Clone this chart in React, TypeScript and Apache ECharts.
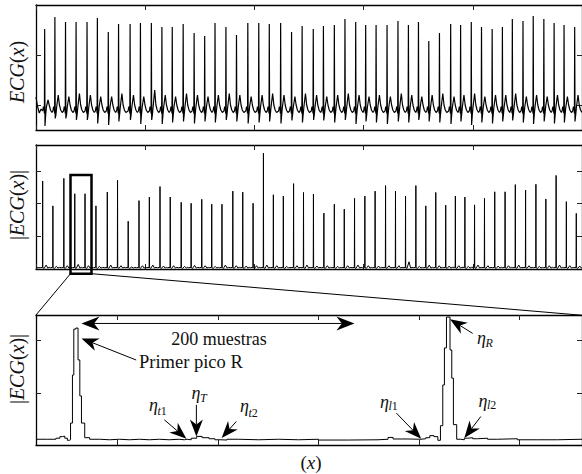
import React, { useEffect, useRef } from "react";
import * as echarts from "echarts";

// ---------- Top panel: ECG(x) (x in samples, beat-by-beat readings) ----------
const topRPos = [238, 519, 811, 1101, 1402, 1686, 1986, 2268, 2585, 2869, 3169, 3459, 3743, 4043, 4344, 4634, 4918, 5218, 5508, 5819, 6120, 6409, 6721, 7021, 7311, 7617, 7896, 8196, 8488, 8783, 9057, 9343, 9644, 9944, 10231, 10507, 10791, 11084, 11392, 11665, 11958, 12239, 12532, 12813, 13086, 13379, 13660, 13952, 14234, 14507, 14799];
const topR = [1.52, 1.76, 1.66, 1.66, 1.66, 1.74, 1.46, 1.62, 1.62, 1.64, 1.64, 1.56, 1.56, 1.62, 1.44, 1.38, 1.64, 1.56, 1.40, 1.64, 1.64, 1.62, 1.64, 1.46, 1.58, 1.52, 1.58, 1.60, 1.72, 1.66, 1.60, 1.60, 1.60, 1.68, 1.60, 1.66, 1.28, 1.44, 1.62, 1.60, 1.66, 1.56, 1.52, 1.56, 1.72, 1.68, 1.78, 1.72, 1.64, 1.60, 1.56];
const topS = [-0.42, -0.27, -0.27, -0.30, -0.30, -0.37, -0.40, -0.33, -0.30, -0.38, -0.30, -0.38, -0.35, -0.33, -0.37, -0.33, -0.35, -0.30, -0.33, -0.37, -0.35, -0.33, -0.37, -0.31, -0.35, -0.30, -0.31, -0.35, -0.30, -0.38, -0.33, -0.35, -0.38, -0.33, -0.35, -0.30, -0.33, -0.35, -0.38, -0.33, -0.40, -0.35, -0.37, -0.33, -0.31, -0.35, -0.38, -0.33, -0.37, -0.35, -0.33];
const topT = [0.10, 0.20, 0.17, 0.23, 0.20, 0.17, 0.17, 0.23, 0.20, 0.17, 0.30, 0.20, 0.17, 0.23, 0.20, 0.17, 0.20, 0.23, 0.20, 0.17, 0.20, 0.23, 0.20, 0.17, 0.23, 0.20, 0.17, 0.20, 0.23, 0.20, 0.17, 0.20, 0.17, 0.23, 0.20, 0.17, 0.20, 0.23, 0.17, 0.20, 0.23, 0.17, 0.20, 0.20, 0.23, 0.17, 0.20, 0.17, 0.20, 0.17, 0.20];

// ---------- Middle panel: |ECG(x)| ----------
const midRPos = [183, 464, 765, 1065, 1347, 1647, 1959, 2240, 2533, 2830, 3114, 3407, 3688, 3989, 4262, 4554, 4828, 5109, 5407, 5680, 5964, 6248, 6521, 6795, 7076, 7349, 7622, 7909, 8196, 8469, 8751, 9035, 9316, 9603, 9876, 10152, 10436, 10709, 10983, 11256, 11521, 11783, 12048, 12321, 12603, 12887, 13168, 13450, 13734, 14007, 14289, 14570, 14843];
const midR = [2.69, 1.93, 2.77, 2.30, 2.30, 1.93, 2.35, 2.71, 1.46, 2.09, 2.20, 2.52, 2.20, 2.04, 2.01, 2.13, 1.98, 1.98, 2.38, 2.35, 2.01, 3.54, 2.27, 2.23, 2.61, 2.34, 2.29, 1.71, 1.98, 1.83, 2.16, 2.23, 2.38, 2.55, 2.38, 2.23, 2.55, 1.93, 2.34, 1.95, 2.23, 2.20, 1.96, 2.16, 2.36, 2.36, 2.58, 2.41, 2.59, 2.14, 2.86, 2.06, 1.70];
const midT = [0.12, 0.08, 0.10, 0.14, 0.10, 0.08, 0.12, 0.10, 0.06, 0.10, 0.12, 0.09, 0.10, 0.08, 0.11, 0.10, 0.08, 0.12, 0.10, 0.09, 0.10, 0.12, 0.10, 0.08, 0.10, 0.12, 0.09, 0.10, 0.08, 0.10, 0.12, 0.10, 0.09, 0.10, 0.10, 0.22, 0.08, 0.12, 0.10, 0.09, 0.10, 0.08, 0.12, 0.10, 0.09, 0.10, 0.12, 0.10, 0.08, 0.10, 0.12, 0.10, 0.09];

// ---------- Bottom panel: zoomed |ECG(x)| (stairs, x in samples) ----------
const botX = [0, 8.7, 14.6, 17.5, 19.3, 21.1, 23.0, 24.4, 25.3, 26.7, 27.7, 29.2, 30.8, 32.1, 33.3, 35.7, 39.3, 46.6, 53.9, 61.2, 68.5, 75.8, 83.1, 90.3, 97.6, 104.9, 108.6, 110.7, 113.7, 117.7, 121.7, 126.8, 131.1, 135.5, 139.9, 148.6, 163.2, 177.8, 192.3, 206.9, 228.8, 250.6, 257.9, 261.6, 272.5, 282.0, 285.6, 288.5, 291.5, 294.4, 296.3, 298.0, 299.2, 300.7, 303.3, 304.6, 305.8, 308.2, 311.1, 313.8, 316.2, 319.9, 323.5, 330.8, 338.1, 352.6, 367.2, 381.8, 400];
const botY = [0.11, 0.11, 0.13, 0.16, 0.17, 0.13, 0.09, 0.10, 0.42, 1.34, 2.22, 2.24, 1.63, 0.94, 0.42, 0.14, 0.11, 0.10, 0.11, 0.10, 0.11, 0.10, 0.11, 0.10, 0.11, 0.10, 0.11, 0.10, 0.13, 0.165, 0.14, 0.12, 0.10, 0.095, 0.11, 0.10, 0.11, 0.10, 0.11, 0.095, 0.10, 0.11, 0.145, 0.115, 0.11, 0.12, 0.14, 0.18, 0.16, 0.09, 0.37, 1.15, 1.86, 2.45, 1.82, 1.28, 0.39, 0.11, 0.10, 0.13, 0.14, 0.12, 0.13, 0.11, 0.12, 0.10, 0.10, 0.11, 0.12];

// annotation arrows (data units of the bottom panel)
const arrowTails = [[73.4, 1.628], [94.0, 0.483], [117.5, 0.769], [146.7, 0.45], [319.9, 2.137], [264.0, 0.611], [325.9, 0.546]];
const arrowTips = [[33.3, 2.042], [110.2, 0.12], [117.5, 0.164], [136.0, 0.134], [303.3, 2.41], [282.2, 0.12], [313.8, 0.134]];
const spanStart = 33.3;
const spanEnd = 233.3;
const spanLevel = 2.328;

const FONT = "Liberation Serif";

function buildTop(): number[][] {
  const pts: number[][] = [[0, 0.16], [40, -0.02], [90, -0.16], [140, -0.08]];
  topRPos.forEach((x, i) => {
    pts.push(
      [x - 55, -0.12], [x - 35, -0.03], [x - 18, -0.07], [x - 7, -0.17],
      [x, topR[i]], [x + 9, topS[i]], [x + 28, -0.2], [x + 50, -0.03],
      [x + 92, topT[i]], [x + 125, 0.0], [x + 160, -0.1], [x + 200, -0.15]
    );
  });
  return pts;
}

function buildMid(): number[][] {
  const pts: number[][] = [[0, 0.04]];
  midRPos.forEach((x, i) => {
    pts.push(
      [x - 70, 0.04], [x - 5, 0.05], [x, midR[i]], [x + 5, 0.04],
      [x + 40, 0.02], [x + 95, midT[i]], [x + 140, 0.03], [x + 180, 0.05]
    );
  });
  pts.push([15000, 0.04]);
  return pts;
}

const axisLine = { show: true, onZero: false, lineStyle: { color: "#000", width: 1.3 } };
const axisTickBase = { show: true, inside: true, length: 5, lineStyle: { color: "#222", width: 1 } };

function xAxes(grid: number, min: number, max: number, interval: number, custom?: number[]) {
  const base: any = {
    type: "value", gridIndex: grid, min, max, interval,
    axisLabel: { show: false }, splitLine: { show: false }, axisLine,
    axisTick: custom ? { ...axisTickBase, customValues: custom } : axisTickBase,
  };
  return [{ ...base, position: "bottom" }, { ...base, position: "top" }];
}
function yAxes(grid: number, min: number, max: number, interval: number, custom?: number[]) {
  const base: any = {
    type: "value", gridIndex: grid, min, max, interval,
    axisLabel: { show: false }, splitLine: { show: false }, axisLine,
    axisTick: custom ? { ...axisTickBase, customValues: custom } : axisTickBase,
  };
  return [{ ...base, position: "left" }, { ...base, position: "right" }];
}

function arrowEls(tail: number[], tip: number[], L: number, W: number): any[] {
  const dx = tip[0] - tail[0];
  const dy = tip[1] - tail[1];
  const len = Math.hypot(dx, dy);
  const ux = dx / len, uy = dy / len;
  const nx = -uy, ny = ux;
  const back = [tip[0] - L * ux, tip[1] - L * uy];
  const notch = [tip[0] - 0.7 * L * ux, tip[1] - 0.7 * L * uy];
  return [
    { type: "line", silent: true, z: 100, shape: { x1: tail[0], y1: tail[1], x2: notch[0], y2: notch[1] }, style: { stroke: "#000", lineWidth: 1 } },
    {
      type: "polygon", silent: true, z: 100,
      shape: { points: [tip, [back[0] + (W / 2) * nx, back[1] + (W / 2) * ny], notch, [back[0] - (W / 2) * nx, back[1] - (W / 2) * ny]] },
      style: { fill: "#000" },
    },
  ];
}

function mathLabel(x: number, y: number, text: string, rotate: boolean, size = 20): any {
  return {
    type: "text", silent: true, z: 100, x, y, rotation: rotate ? Math.PI / 2 : 0,
    style: {
      text, align: "center", verticalAlign: "middle", fill: "#111",
      rich: {
        i: { fontStyle: "italic", fontSize: size, fontFamily: FONT, fill: "#111" },
        n: { fontSize: size, fontFamily: FONT, fill: "#111" },
      },
    },
  };
}

// baseline-positioned text helper (zrender middle => baseline approx +0.34em)
function etaLabel(x: number, base: number, sub: string, subItalic: string, subBase: number): any[] {
  const mainSize = 18, subSize = 12;
  return [
    { type: "text", silent: true, z: 100, x, y: base - 0.34 * mainSize, style: { text: "η", fontSize: mainSize, fontStyle: "italic", fontFamily: FONT, fill: "#111", align: "left", verticalAlign: "middle" } },
    {
      type: "text", silent: true, z: 100, x: x + 8.5, y: subBase - 0.34 * subSize,
      style: {
        text: `{i|${subItalic}}{n|${sub}}`, align: "left", verticalAlign: "middle", fill: "#111",
        rich: {
          i: { fontStyle: "italic", fontSize: subSize, fontFamily: FONT, fill: "#111" },
          n: { fontSize: subSize, fontFamily: FONT, fill: "#111" },
        },
      },
    },
  ];
}

export default function App() {
  const ref = useRef<HTMLDivElement>(null);
  useEffect(() => {
    if (!ref.current) return;
    const chart = echarts.init(ref.current, null, { renderer: "svg" });
    const option: any = {
      animation: false,
      backgroundColor: "#fff",
      textStyle: { fontFamily: FONT },
      grid: [
        { left: 36, top: 5, width: 549, height: 125 },
        { left: 36, top: 145, width: 549, height: 124 },
        { left: 36, top: 315, width: 549, height: 130 },
      ],
      xAxis: [
        ...xAxes(0, 0, 15000, 3000),
        ...xAxes(1, 0, 15000, 3000),
        ...xAxes(2, 0, 400, 100, [59.7, 133.3, 206.9, 280.5, 354.1]),
      ],
      yAxis: [
        ...yAxes(0, -0.5, 2.0, 0.5, [0, 1]),
        ...yAxes(1, 0, 3.79, 1, [1, 2, 3]),
        ...yAxes(2, 0, 2.49, 1, [1, 2]),
      ],
      series: [
        {
          type: "line", xAxisIndex: 0, yAxisIndex: 0, data: buildTop(), symbol: "none", silent: true,
          lineStyle: { color: "#000", width: 1.2 }, clip: true,
        },
        {
          type: "line", xAxisIndex: 2, yAxisIndex: 2, data: buildMid(), symbol: "none", silent: true,
          lineStyle: { color: "#000", width: 1 }, clip: true,
        },
        {
          type: "line", xAxisIndex: 4, yAxisIndex: 4, step: "end", symbol: "none", silent: true,
          data: botX.map((x, i) => [x, botY[i]]), lineStyle: { color: "#000", width: 1 }, clip: true,
        },
      ],
    };
    chart.setOption(option);

    const px = (p: number[]) => chart.convertToPixel({ gridIndex: 2 }, p) as number[];
    const graphics: any[] = [];
    // zoom box and connectors
    graphics.push({ type: "rect", silent: true, z: 100, shape: { x: 70.5, y: 175, width: 21, height: 98.7 }, style: { fill: "none", stroke: "#000", lineWidth: 2.5 } });
    graphics.push({ type: "line", silent: true, z: 100, shape: { x1: 70.5, y1: 273.7, x2: 36, y2: 315 }, style: { stroke: "#000", lineWidth: 1 } });
    graphics.push({ type: "line", silent: true, z: 100, shape: { x1: 91.5, y1: 273.7, x2: 585, y2: 315.5 }, style: { stroke: "#000", lineWidth: 1 } });
    // arrows
    arrowTails.forEach((t, i) => graphics.push(...arrowEls(px(t), px(arrowTips[i]), 17, 13)));
    const sL = px([spanStart, spanLevel]);
    const sR = px([spanEnd, spanLevel]);
    const mid = [(sL[0] + sR[0]) / 2, sL[1]];
    graphics.push(...arrowEls(mid, sL, 18, 14));
    graphics.push(...arrowEls(mid, sR, 18, 14));
    // texts
    graphics.push(mathLabel(17, 72, "{i|ECG}{n|(}{i|x}{n|)}", true));
    graphics.push(mathLabel(17, 205, "{n||}{i|ECG}{n|(}{i|x}{n|)}{n||}", true));
    graphics.push(mathLabel(17, 369, "{n||}{i|ECG}{n|(}{i|x}{n|)}{n||}", true));
    graphics.push(mathLabel(311, 462, "{n|(}{i|x}{n|)}", false, 19));
    graphics.push({ type: "text", silent: true, z: 100, x: 219, y: 345 - 0.34 * 18, style: { text: "200 muestras", fontSize: 18, fontFamily: FONT, fill: "#111", align: "center", verticalAlign: "middle" } });
    graphics.push({ type: "text", silent: true, z: 100, x: 139, y: 368.3 - 0.34 * 18, style: { text: "Primer pico R", fontSize: 18.5, fontFamily: FONT, fill: "#111", align: "left", verticalAlign: "middle" } });
    graphics.push(...etaLabel(149, 411, "1", "t", 415));
    graphics.push(...etaLabel(191.5, 399, "", "T", 402));
    graphics.push(...etaLabel(240, 412.5, "2", "t", 416.7));
    graphics.push(...etaLabel(477, 344.5, "", "R", 347.3));
    graphics.push(...etaLabel(380, 408.5, "1", "l", 410.5));
    graphics.push(...etaLabel(478.5, 407, "2", "l", 409.3));
    chart.setOption({ graphic: graphics });

    return () => chart.dispose();
  }, []);
  return <div ref={ref} style={{ position: "absolute", left: 0, top: 0, width: 582, height: 474 }} />;
}
